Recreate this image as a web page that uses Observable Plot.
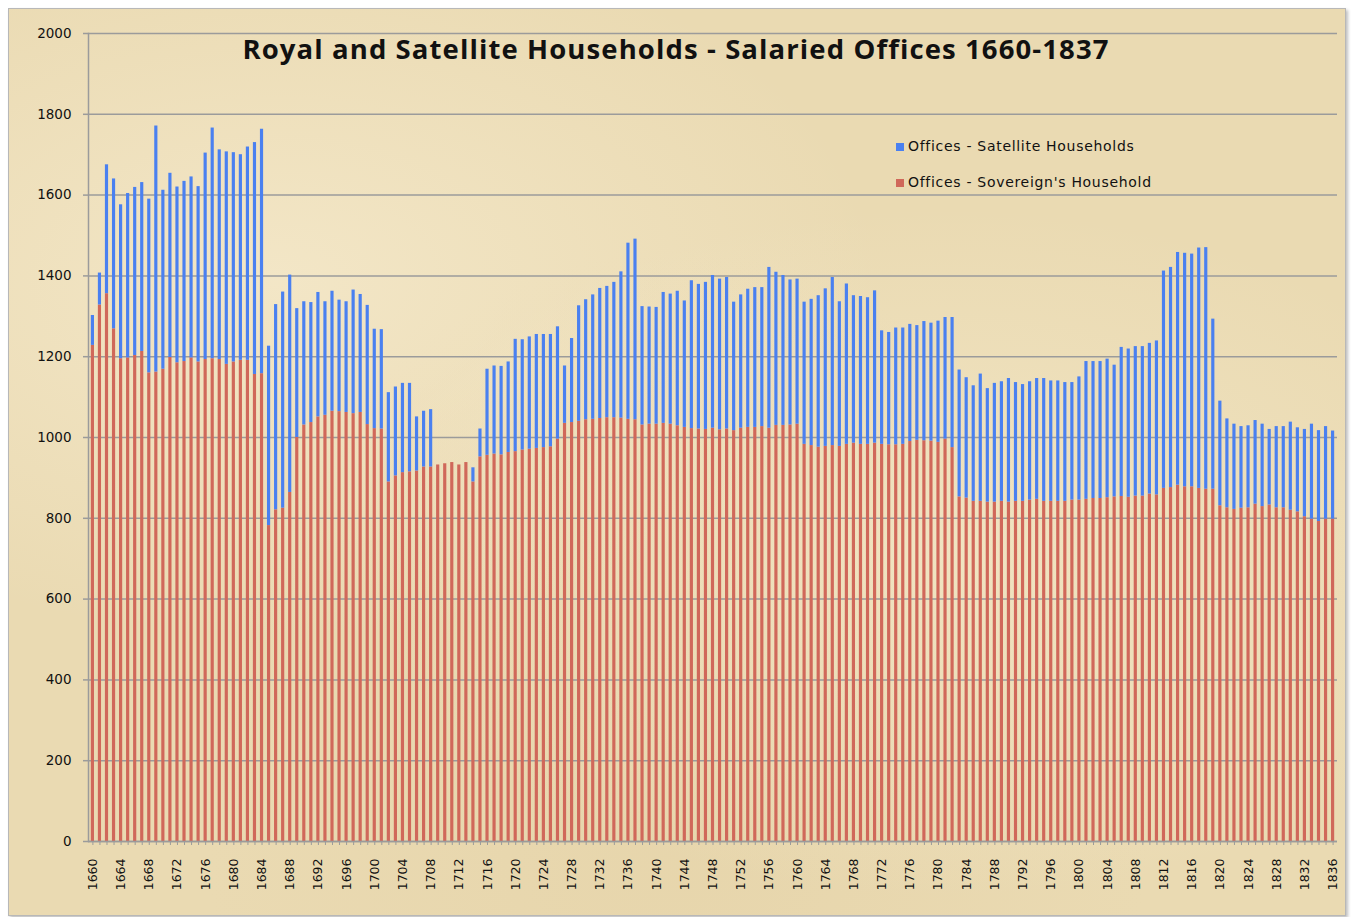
<!DOCTYPE html>
<html>
<head>
<meta charset="utf-8">
<script src="https://cdn.jsdelivr.net/npm/d3@7"></script>
<script src="https://cdn.jsdelivr.net/npm/@observablehq/plot@0.6"></script>
<style>
  html, body { margin: 0; padding: 0; background: #ffffff; }
  #frame {
    position: absolute; left: 8px; top: 8px; width: 1336px; height: 906px;
    border: 1.5px solid #b8b8b8;
    box-shadow: 2px 2px 3px rgba(0,0,0,0.25);
    background:
      radial-gradient(ellipse at 20% 30%, rgba(250,240,215,0.55), rgba(250,240,215,0) 40%),
      radial-gradient(ellipse at 70% 60%, rgba(248,238,210,0.5), rgba(248,238,210,0) 45%),
      radial-gradient(ellipse at 50% 90%, rgba(225,205,160,0.35), rgba(225,205,160,0) 50%),
      #eadab2;
    overflow: hidden;
  }
  #chart { position: absolute; left: 0; top: 0; }
  #title {
    position: absolute; left: 0; top: 30px; width: 1352px; text-align: center;
    font-family: "Open Sans", Lato, sans-serif; font-weight: 700; font-size: 27.5px;
    letter-spacing: 1.1px; color: #111;
  }
  #legend {
    position: absolute; left: 896px; top: 138px;
    font-family: "DejaVu Sans", Verdana, sans-serif; font-size: 14px; letter-spacing: 0.7px; color: #111;
  }
  #legend .item { height: 36px; display: flex; align-items: flex-start; }
  #legend .sw { width: 8px; height: 8px; margin-top: 5px; margin-right: 4px; }
</style>
</head>
<body>
<div id="frame"></div>
<div id="chart"></div>
<div id="title">Royal and Satellite Households - Salaried Offices 1660-1837</div>
<div id="legend">
  <div class="item"><div class="sw" style="background:#4a80f0"></div><span>Offices - Satellite Households</span></div>
  <div class="item"><div class="sw" style="background:#d0685a"></div><span>Offices - Sovereign's Household</span></div>
</div>
<script>
// Years 1660..1836 (one bar per year)
const years = d3.range(1660, 1837);

// Offices - Sovereign's Household (red, bottom of stack)
const sovereign = [
  1228,1328,1356,1269,1195,1197,1203,1213,1160,1162, // 1660-1669
  1169,1198,1185,1188,1197,1187,1193,1195,1193,1181, // 1670-1679
  1187,1191,1191,1156,1158, 782, 821, 825, 864,1000, // 1680-1689
  1031,1037,1051,1055,1065,1064,1062,1059,1062,1032, // 1690-1699
  1022,1021, 890, 905, 913, 915, 917, 927, 927, 932, // 1700-1709
   935, 938, 932, 938, 890, 952, 956, 959, 957, 963, // 1710-1719
   965, 969, 971, 973, 975, 977, 996,1035,1037,1040, // 1720-1729
  1044,1045,1047,1049,1049,1048,1045,1044,1031,1033, // 1730-1739
  1033,1035,1033,1029,1025,1022,1021,1020,1023,1019, // 1740-1749
  1021,1017,1023,1025,1025,1027,1023,1030,1030,1031, // 1750-1759
  1033, 983, 980, 976, 978, 980, 978, 983, 986, 983, // 1760-1769
   983, 986, 983, 982, 982, 983, 990, 993, 992, 991, // 1770-1779
   988, 996, 975, 853, 850, 842, 842, 840, 840, 842, // 1780-1789
   840, 842, 842, 845, 847, 842, 842, 842, 842, 845, // 1790-1799
   845, 847, 849, 849, 851, 853, 854, 852, 855, 855, // 1800-1809
   860, 858, 874, 876, 882, 878, 878, 874, 872, 872, // 1810-1819
   831, 826, 822, 825, 826, 835, 829, 833, 826, 826, // 1820-1829
   820, 816, 804, 798, 792, 798, 798                 // 1830-1836
];

// Total offices (top of blue = Sovereign's + Satellite Households)
const total = [
  1302,1407,1675,1640,1576,1604,1619,1631,1590,1771, // 1660-1669
  1612,1654,1620,1634,1645,1621,1704,1766,1712,1707, // 1670-1679
  1705,1700,1719,1730,1763,1226,1329,1360,1402,1319, // 1680-1689
  1336,1334,1359,1336,1362,1340,1336,1365,1354,1327, // 1690-1699
  1268,1267,1111,1125,1134,1134,1051,1065,1069, 932, // 1700-1709
   935, 938, 932, 938, 925,1021,1169,1177,1176,1187, // 1710-1719
  1243,1242,1249,1255,1255,1255,1274,1177,1245,1326, // 1720-1729
  1341,1353,1369,1374,1384,1410,1481,1491,1324,1323, // 1730-1739
  1322,1359,1355,1362,1338,1388,1379,1384,1401,1392, // 1740-1749
  1396,1335,1353,1367,1371,1371,1421,1409,1401,1390, // 1750-1759
  1392,1335,1342,1351,1368,1396,1336,1380,1351,1349, // 1760-1769
  1346,1363,1264,1260,1271,1271,1280,1277,1287,1283, // 1770-1779
  1288,1297,1297,1167,1148,1128,1157,1121,1134,1138, // 1780-1789
  1146,1136,1131,1138,1146,1146,1140,1140,1136,1136, // 1790-1799
  1150,1188,1188,1188,1194,1179,1223,1219,1225,1225, // 1800-1809
  1233,1239,1412,1421,1458,1456,1454,1469,1470,1293, // 1810-1819
  1090,1046,1033,1027,1029,1042,1033,1020,1027,1027, // 1820-1829
  1038,1024,1020,1033,1017,1027,1016                 // 1830-1836
];

const yTicks = [0,200,400,600,800,1000,1200,1400,1600,1800,2000];
const xTickLabels = years.filter(y => (y - 1660) % 4 === 0);

const rows = years.map((yr, i) => ({year: yr, sovereign: sovereign[i], total: total[i]}));

const BLUE = "#4a80f0", RED = "#d0685a", GRID = "#9b9b9b";

const chart = Plot.plot({
  width: 1352,
  height: 917,
  marginLeft: 88,
  marginRight: 15,
  marginTop: 33,
  marginBottom: 76,
  style: {background: "transparent", fontFamily: "'DejaVu Sans', Verdana, sans-serif", fontSize: "12px", color: "#111"},
  x: {type: "band", domain: years, paddingInner: 0.55, paddingOuter: 0.4, round: false},
  y: {domain: [0, 2000]},
  marks: [
    Plot.gridY(yTicks, {stroke: GRID, strokeOpacity: 1, strokeWidth: 1.5}),
    Plot.barY(rows, {x: "year", y1: 0, y2: "sovereign", fill: RED}),
    Plot.barY(rows.filter(d => d.total > d.sovereign), {x: "year", y1: "sovereign", y2: "total", fill: BLUE}),
    Plot.frame({anchor: "left", stroke: GRID, strokeWidth: 1.5}),
    Plot.axisY(yTicks, {tickSize: 5, tickPadding: 12, stroke: GRID, strokeWidth: 1.5, fontSize: 13.5, fill: "#111", label: null, tickFormat: d => String(d)}),
    Plot.ruleY([0], {stroke: GRID, strokeWidth: 1.5}),
    Plot.axisX(years, {tickSize: 4, stroke: GRID, tickFormat: () => "", label: null}),
    Plot.axisX(xTickLabels, {tickSize: 0, tickPadding: 17, tickRotate: -90, fontSize: 12.5, fill: "#111", label: null, tickFormat: d => String(d)})
  ]
});

document.getElementById("chart").appendChild(chart);
</script>
</body>
</html>
